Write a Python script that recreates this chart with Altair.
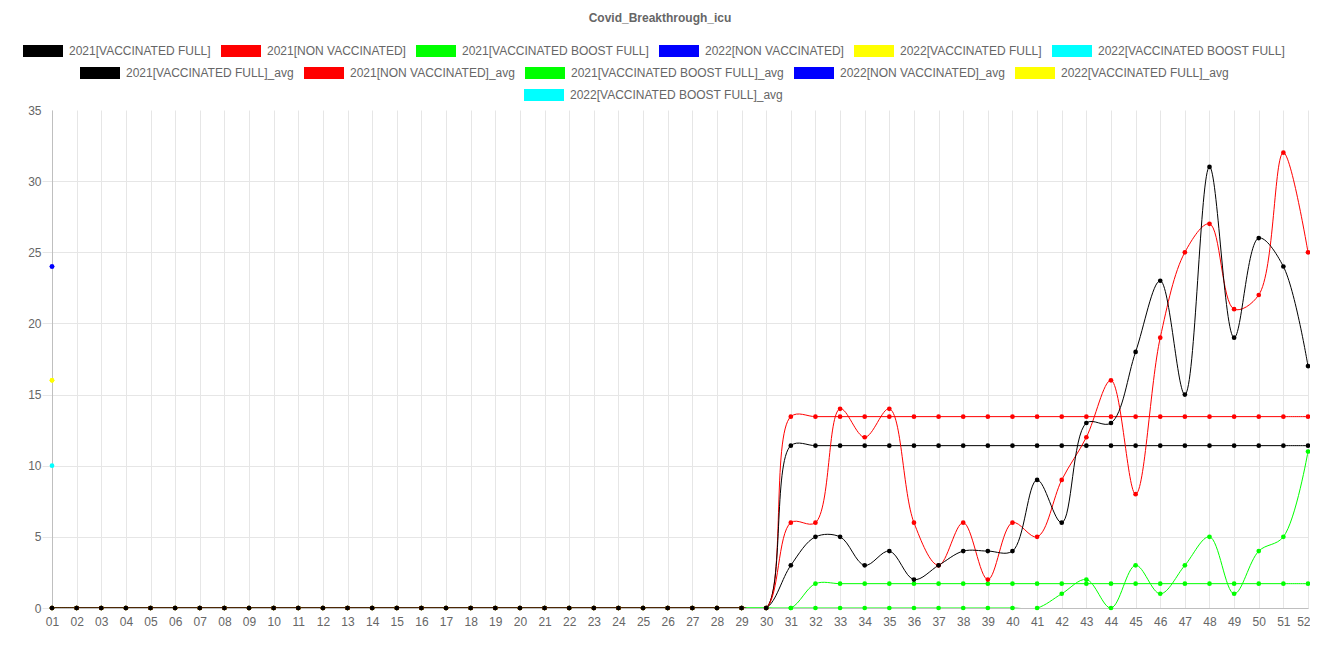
import altair as alt
import pandas as pd

# ---------------- data ----------------
weeks = [f"{i:02d}" for i in range(1, 53)]

series_names = [
    "2021[VACCINATED FULL]",
    "2021[NON VACCINATED]",
    "2021[VACCINATED BOOST FULL]",
    "2022[NON VACCINATED]",
    "2022[VACCINATED FULL]",
    "2022[VACCINATED BOOST FULL]",
]
avg_names = [n + "_avg" for n in series_names]
series_colors = ["#000000", "#ff0000", "#00ff00", "#0000ff", "#ffff00", "#00ffff"]

vacc_full_2021 = [0] * 30 + [3, 5, 5, 3, 4, 2, 3, 4, 4, 4, 9, 6, 13, 13, 18, 23, 15, 31, 19, 26, 24, 17]
non_vacc_2021 = [0] * 30 + [6, 6, 14, 12, 14, 6, 3, 6, 2, 6, 5, 9, 12, 16, 8, 19, 25, 27, 21, 22, 32, 25]
boost_2021 = [0] * 30 + [0, 0, 0, 0, 0, 0, 0, 0, 0, 0, 0, 1, 2, 0, 3, 1, 3, 5, 1, 4, 5, 11]
non_vacc_2022 = [24]
vacc_full_2022 = [16]
boost_2022 = [10]

vacc_full_2021_avg = [0] * 30 + [11.41] * 22
non_vacc_2021_avg = [0] * 30 + [13.45] * 22
boost_2021_avg = [0] * 31 + [1.71] * 21
non_vacc_2022_avg = [24]
vacc_full_2022_avg = [16]
boost_2022_avg = [10]

raw_values = [vacc_full_2021, non_vacc_2021, boost_2021, non_vacc_2022, vacc_full_2022, boost_2022]
avg_values = [vacc_full_2021_avg, non_vacc_2021_avg, boost_2021_avg,
              non_vacc_2022_avg, vacc_full_2022_avg, boost_2022_avg]

# rows are stored last dataset first so that the first dataset is drawn on top
rows = []
for name, vals in reversed(list(zip(avg_names, avg_values))):
    for w, v in zip(weeks, vals):
        rows.append({"series": name, "week": w, "value": v, "kind": "avg"})
for name, vals in reversed(list(zip(series_names, raw_values))):
    for w, v in zip(weeks, vals):
        rows.append({"series": name, "week": w, "value": v, "kind": "raw"})
df = pd.DataFrame(rows)

# ---------------- styling ----------------
FONT = "Liberation Sans"
GRID = "#e6e6e6"
TXT = "#666666"
RECT = "M-1,-0.3H1V0.3H-1Z"

x_enc = alt.X(
    "week:O",
    sort=weeks,
    scale=alt.Scale(type="point", padding=0, domain=weeks),
    axis=alt.Axis(
        title=None, labelAngle=0, ticks=False, labelPadding=8, grid=True,
        gridColor=GRID, domainColor="#bfbfbf", labelColor=TXT,
        labelFontSize=12, labelFont=FONT,
        labelAlign={"condition": {"test": "datum.label == '52'", "value": "right"}, "value": "center"},
        labelOffset={"condition": {"test": "datum.label == '52'", "value": 2}, "value": 0},
    ),
)
y_enc = alt.Y(
    "value:Q",
    scale=alt.Scale(domain=[0, 35], nice=False),
    axis=alt.Axis(
        title=None, values=[0, 5, 10, 15, 20, 25, 30, 35], tickSize=10,
        tickColor=GRID, labelPadding=1, grid=True, gridColor=GRID,
        gridOpacity={"condition": {"test": "datum.value == 35", "value": 0}, "value": 1},
        tickOpacity={"condition": {"test": "datum.value == 35", "value": 0}, "value": 1},
        domainColor="#bfbfbf", labelColor=TXT, labelFontSize=12, labelFont=FONT,
    ),
)


def legend(x, y, **kw):
    return alt.Legend(
        orient="none", direction="horizontal", title=None, legendX=x, legendY=y,
        symbolType=RECT, symbolSize=1600, symbolStrokeWidth=0, symbolOpacity=1,
        labelFontSize=12, labelColor=TXT, labelFont=FONT, labelOffset=6,
        columnPadding=10, padding=0, labelLimit=500, **kw,
    )


stroke_scale = alt.Scale(domain=series_names + avg_names, range=series_colors * 2)

base = alt.Chart(df)

avg_lines = base.transform_filter(alt.datum.kind == "avg").mark_line(
    interpolate="catmull-rom", strokeWidth=1, clip=True
).encode(x=x_enc, y=y_enc, stroke=alt.Stroke("series:N", scale=stroke_scale, legend=None))

raw_lines = base.transform_filter(alt.datum.kind == "raw").mark_line(
    interpolate="catmull-rom", strokeWidth=1, clip=True
).encode(x=x_enc, y=y_enc, stroke=alt.Stroke("series:N", scale=stroke_scale, legend=None))

last_avg = base.transform_filter(alt.datum.series == avg_names[5]).mark_point(
    filled=True, size=4, opacity=1, color=series_colors[5]
).encode(
    x=x_enc, y=y_enc,
    shape=alt.Shape("series:N", scale=alt.Scale(domain=[avg_names[5]], range=[RECT]),
                    legend=legend(472, -35, symbolFillColor=series_colors[5])),
)

avg_points = base.transform_filter(
    alt.FieldOneOfPredicate(field="series", oneOf=avg_names[:5])
).mark_circle(size=22, opacity=1).encode(
    x=x_enc, y=y_enc,
    color=alt.Color("series:N", scale=alt.Scale(domain=avg_names[:5], range=series_colors[:5]),
                    legend=legend(28, -57)),
)

raw_points = base.transform_filter(alt.datum.kind == "raw").mark_circle(size=22, opacity=1).encode(
    x=x_enc, y=y_enc,
    fill=alt.Fill("series:N", scale=alt.Scale(domain=series_names, range=series_colors),
                  legend=legend(-29, -79)),
)

chart = alt.layer(last_avg, avg_lines, avg_points, raw_lines, raw_points).properties(
    width=1256,
    height=498,
    title=alt.TitleParams("Covid_Breakthrough_icu", fontSize=12, fontWeight="bold",
                          color=TXT, font=FONT, anchor="middle", dx=-20, dy=-2),
    autosize=alt.AutoSizeParams(type="none"),
    padding={"left": 44, "top": 102, "right": 2, "bottom": 43},
).configure_view(stroke=None)

chart.save("out.html", embed_options={"renderer": "svg", "actions": False})
